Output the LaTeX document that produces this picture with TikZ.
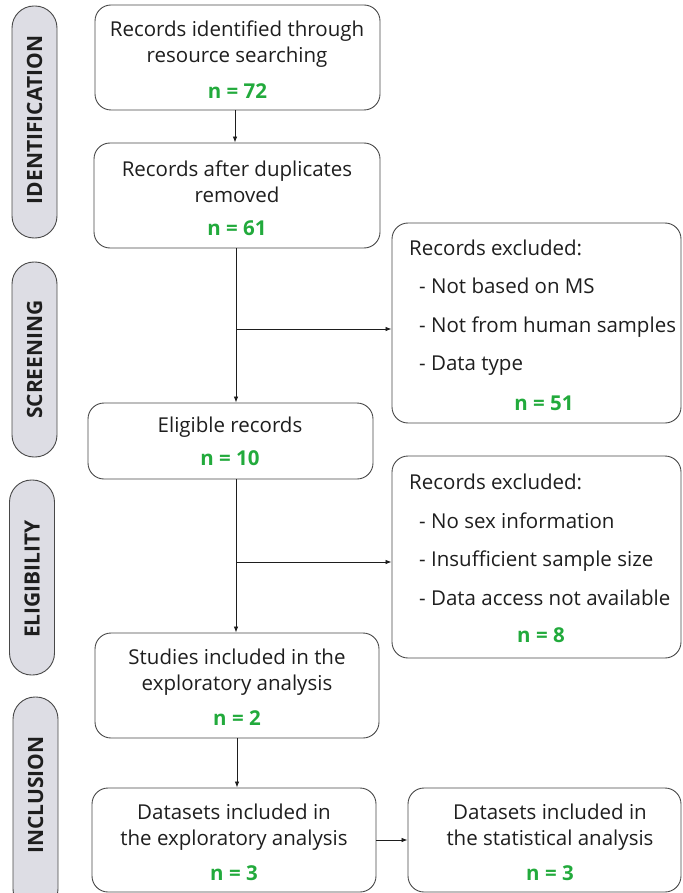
\documentclass[tikz,border=0pt]{standalone}
\usepackage{fontspec}
\setmainfont{Open Sans}
\usetikzlibrary{arrows.meta}
\definecolor{ngreen}{RGB}{34,170,60}
\definecolor{lblfill}{RGB}{221,221,228}
\definecolor{edgegray}{RGB}{72,72,72}
\definecolor{inkgray}{RGB}{30,30,30}
\begin{document}
\begin{tikzpicture}[x=1pt,y=-1pt,
  box/.style={draw=edgegray, line width=0.9pt, rounded corners=16pt, inner sep=0pt},
  phase/.style={draw=edgegray, line width=0.9pt, fill=lblfill, rounded corners=22pt, inner sep=0pt, rotate=90, minimum height=45pt},
  phasetext/.style={rotate=90, inner sep=0pt, text=inkgray, font=\fontsize{21}{24}\selectfont\bfseries},
  txt/.style={align=center, inner sep=0pt, text=inkgray, font=\fontsize{20.5}{25.5}\selectfont},
  ltxt/.style={align=left, anchor=west, inner sep=0pt, text=inkgray, font=\fontsize{20.5}{38.5}\selectfont},
  num/.style={inner sep=0pt, text=ngreen, font=\fontsize{20.5}{25}\selectfont\bfseries},
  arr/.style={draw=inkgray, line width=0.8pt, -{Latex[length=6pt,width=4.5pt]}},
  conn/.style={draw=inkgray, line width=0.8pt}]
\useasboundingbox (0,0) rectangle (682,893);

% phase labels on the left
\node[phase, minimum width=232pt] (pid) at (34.5,122) {};
\node[phasetext] (pidt) at (34.5,120) {IDENTIFICATION};
\node[phase, minimum width=195pt] (psc) at (34.5,359.5) {};
\node[phasetext] (psct) at (psc.center) {SCREENING};
\node[phase, minimum width=195pt] (pel) at (32,577.5) {};
\node[phasetext] (pelt) at (32,579) {ELIGIBILITY};
\node[phase, minimum width=214pt] (pin) at (35.5,804) {};
\node[phasetext] (pint) at (35.5,795) {INCLUSION};

% main flow boxes
\node[box, minimum width=285pt, minimum height=105pt] (b1) at (237.5,57.5) {};
\node[txt] (b1t) at (237,44) {Records identified through\\resource searching};
\node[num] (b1n) at (237.5,91) {n = 72};

\node[box, minimum width=286pt, minimum height=105pt] (b2) at (237,195.5) {};
\node[txt] (b2t) at (237,182) {Records after duplicates\\removed};
\node[num] (b2n) at (237,228) {n = 61};

\node[box, minimum width=285pt, minimum height=76pt] (el) at (230.5,441) {};
\node[txt] (elt) at (230,427) {Eligible records};
\node[num] (eln) at (230,458) {n = 10};

\node[box, minimum width=284pt, minimum height=105pt] (st) at (237,685.5) {};
\node[txt] (stt) at (237,672) {Studies included in the\\exploratory analysis};
\node[num] (stn) at (237,718) {n = 2};

\node[box, minimum width=284pt, minimum height=104pt] (d1) at (234,840) {};
\node[txt] (d1t) at (234,827) {Datasets included in\\the exploratory analysis};
\node[num] (d1n) at (234,873) {n = 3};

\node[box, minimum width=273pt, minimum height=104pt] (d2) at (544.5,840) {};
\node[txt] (d2t) at (550,827) {Datasets included in\\the statistical analysis};
\node[num] (d2n) at (550,873) {n = 3};

% exclusion boxes
\node[box, minimum width=289pt, minimum height=200pt] (x1) at (536.5,323) {};
\node[ltxt] (x1t) at (409,307.5) {Records excluded:\\\hspace{10pt}- Not based on MS\\\hspace{10pt}- Not from human samples\\\hspace{10pt}- Data type};
\node[num] (x1n) at (544,403) {n = 51};

\node[box, minimum width=289pt, minimum height=202pt] (x2) at (536.5,557) {};
\node[ltxt] (x2t) at (409,540) {Records excluded:\\\hspace{10pt}- No sex information\\\hspace{10pt}- Insufficient sample size\\\hspace{10pt}- Data access not available};
\node[num] (x2n) at (541,635) {n = 8};

% connectors
\coordinate (v1) at (235,0);
\coordinate (v2) at (236,0);
\coordinate (j1) at (236,329);
\coordinate (j2) at (236,562);
\draw[arr] (v1 |- b1.south) -- (v1 |- b2.north);
\draw[arr] (v2 |- b2.south) -- (v2 |- el.north);
\draw[arr] (j1) -- (j1 -| x1.west);
\draw[arr] (v2 |- el.south) -- (v2 |- st.north);
\draw[arr] (j2) -- (j2 -| x2.west);
\draw[arr] (st.south) -- (st.south |- d1.north);
\draw[arr] (d1.east) -- (d2.west);
\end{tikzpicture}
\end{document}
